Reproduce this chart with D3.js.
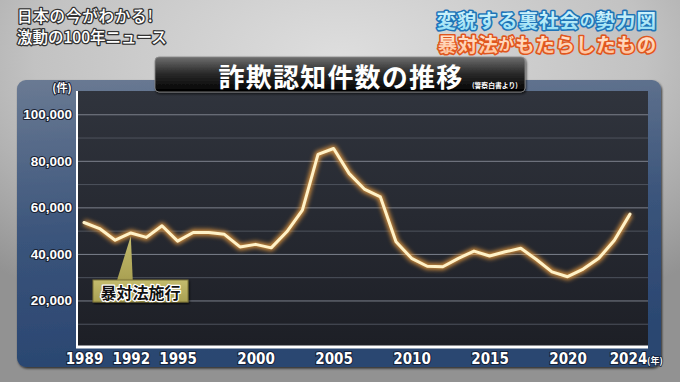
<!DOCTYPE html>
<html>
<head>
<meta charset="utf-8">
<script src="https://cdn.jsdelivr.net/npm/d3@7"></script>
<style>
  html, body { margin: 0; padding: 0; background: #b8b8b8; }
  svg { display: block; }
  .jp { font-family: "Noto Sans CJK JP", "Noto Sans", sans-serif; }
</style>
</head>
<body>
<svg id="chart"></svg>
<script>
// 詐欺認知件数 (警察白書より)
const years = [1989, 1990, 1991, 1992, 1993, 1994, 1995, 1996, 1997, 1998, 1999,
  2000, 2001, 2002, 2003, 2004, 2005, 2006, 2007, 2008, 2009, 2010, 2011, 2012,
  2013, 2014, 2015, 2016, 2017, 2018, 2019, 2020, 2021, 2022, 2023, 2024];
const counts = [53500, 50900, 45900, 49000, 47100, 52100, 45500, 49200, 49200, 48400, 43000,
  44100, 42600, 49500, 58800, 82800, 85300, 74500, 67700, 64500, 45200, 38100, 34700, 34500,
  38100, 41200, 39100, 40900, 42400, 37600, 32300, 30200, 33500, 38100, 45900, 57100];
const yearTicks = [1989, 1992, 1995, 2000, 2005, 2010, 2015, 2020, 2024];
const countTicks = [20000, 40000, 60000, 80000, 100000];
const gridTicks = [10000, 20000, 30000, 40000, 50000, 60000, 70000, 80000, 90000, 100000];

const width = 680, height = 382;
const plot = { left: 77, right: 648, top: 91, bottom: 347 };

const svg = d3.select("#chart").attr("width", width).attr("height", height);
const defs = svg.append("defs");

// backdrop gradient
const bg = defs.append("radialGradient").attr("id", "bg")
  .attr("cx", "50%").attr("cy", "15%").attr("r", "75%");
bg.append("stop").attr("offset", "0%").attr("stop-color", "#dedede");
bg.append("stop").attr("offset", "60%").attr("stop-color", "#c2c2c2");
bg.append("stop").attr("offset", "100%").attr("stop-color", "#929292");

const panelGrad = defs.append("linearGradient").attr("id", "panel")
  .attr("x1", 0).attr("y1", 0).attr("x2", 0.15).attr("y2", 1);
panelGrad.append("stop").attr("offset", "0%").attr("stop-color", "#6a7a93");
panelGrad.append("stop").attr("offset", "55%").attr("stop-color", "#3a547b");
panelGrad.append("stop").attr("offset", "100%").attr("stop-color", "#2a4671");

const plotGrad = defs.append("linearGradient").attr("id", "plotbg")
  .attr("x1", 0).attr("y1", 0).attr("x2", 0).attr("y2", 1);
plotGrad.append("stop").attr("offset", "0%").attr("stop-color", "#30343d");
plotGrad.append("stop").attr("offset", "100%").attr("stop-color", "#1d1f26");

const bannerGrad = defs.append("linearGradient").attr("id", "banner")
  .attr("x1", 0).attr("y1", 0).attr("x2", 0).attr("y2", 1);
bannerGrad.append("stop").attr("offset", "0%").attr("stop-color", "#6e6e6e");
bannerGrad.append("stop").attr("offset", "45%").attr("stop-color", "#2c2c2c");
bannerGrad.append("stop").attr("offset", "100%").attr("stop-color", "#000");

const calloutGrad = defs.append("linearGradient").attr("id", "callout")
  .attr("x1", 0).attr("y1", 0).attr("x2", 0).attr("y2", 1);
calloutGrad.append("stop").attr("offset", "0%").attr("stop-color", "#c4bc6e");
calloutGrad.append("stop").attr("offset", "100%").attr("stop-color", "#a9a052");

const cyanGrad = defs.append("linearGradient").attr("id", "cyan")
  .attr("x1", 0).attr("y1", 0).attr("x2", 0).attr("y2", 1);
cyanGrad.append("stop").attr("offset", "0%").attr("stop-color", "#e6fbff");
cyanGrad.append("stop").attr("offset", "100%").attr("stop-color", "#8fdcf2");

const peachGrad = defs.append("linearGradient").attr("id", "peach")
  .attr("x1", 0).attr("y1", 0).attr("x2", 0).attr("y2", 1);
peachGrad.append("stop").attr("offset", "0%").attr("stop-color", "#fff0e2");
peachGrad.append("stop").attr("offset", "100%").attr("stop-color", "#ffbf96");

defs.append("filter").attr("id", "glow").attr("x", "-10%").attr("y", "-20%")
  .attr("width", "120%").attr("height", "140%")
  .append("feGaussianBlur").attr("stdDeviation", 2);

const shadow = defs.append("filter").attr("id", "shadow");
shadow.append("feDropShadow").attr("dx", 1).attr("dy", 1.5)
  .attr("stdDeviation", 1.2).attr("flood-color", "#000").attr("flood-opacity", 0.7);

svg.append("rect").attr("width", width).attr("height", height).attr("fill", "url(#bg)");

// blue panel and dark plot area
svg.append("rect").attr("x", 17).attr("y", 80).attr("width", 644).attr("height", 287)
  .attr("rx", 9).attr("fill", "url(#panel)").attr("filter", "url(#shadow)");
svg.append("rect").attr("x", plot.left).attr("y", plot.top)
  .attr("width", plot.right - plot.left).attr("height", plot.bottom - plot.top)
  .attr("fill", "url(#plotbg)");

const x = d3.scaleLinear().domain([1989, 2024]).range([84, 630]);
const y = d3.scaleLinear().domain([0, 110000]).range([plot.bottom, plot.top]);

// gridlines
const grid = svg.append("g").attr("transform", `translate(${plot.left},0)`)
  .call(d3.axisLeft(y).tickValues(gridTicks).tickSize(-(plot.right - plot.left)).tickFormat(""));
grid.select(".domain").remove();
grid.selectAll(".tick line")
  .attr("stroke", d => d % 20000 === 0 ? "#7c818c" : "#4e535d")
  .attr("stroke-width", 1);

// y tick labels
const yAxis = svg.append("g").attr("transform", `translate(${plot.left},0)`)
  .call(d3.axisLeft(y).tickValues(countTicks).tickSize(0).tickPadding(5)
    .tickFormat(d3.format(",")));
yAxis.select(".domain").remove();
yAxis.selectAll("text")
  .attr("fill", "#fff").attr("font-family", "Liberation Sans, Arial, sans-serif")
  .attr("font-weight", "bold").attr("font-size", 13.5)
  .attr("stroke", "#1b2233").attr("stroke-width", 2.2).attr("paint-order", "stroke")
  .attr("stroke-linejoin", "round");

// x tick labels
const xAxis = svg.append("g").attr("transform", `translate(0,${plot.bottom})`)
  .call(d3.axisBottom(x).tickValues(yearTicks).tickSize(0).tickPadding(6)
    .tickFormat(d3.format("d")));
xAxis.select(".domain").remove();
xAxis.selectAll("text")
  .attr("fill", "#fff").attr("font-family", "Liberation Sans Narrow, DejaVu Sans Condensed, sans-serif")
  .attr("font-weight", "bold").attr("font-size", 15)
  .attr("stroke", "#14213a").attr("stroke-width", 2).attr("paint-order", "stroke");
// the last year label sits a little left so (年) fits beside it
xAxis.selectAll(".tick").filter(d => d === 2024).select("text").attr("dx", -2);

// axis lines
svg.append("line").attr("x1", plot.left).attr("x2", plot.left)
  .attr("y1", plot.top).attr("y2", plot.bottom)
  .attr("stroke", "#fff").attr("stroke-width", 2);
svg.append("line").attr("x1", plot.left - 1).attr("x2", plot.right)
  .attr("y1", plot.bottom).attr("y2", plot.bottom)
  .attr("stroke", "#fff").attr("stroke-width", 3);

svg.append("text").attr("class", "jp")
  .attr("x", 62).attr("y", 87).attr("text-anchor", "middle").attr("dominant-baseline", "central")
  .attr("fill", "#fff").attr("font-size", 11).attr("font-weight", "bold")
  .attr("stroke", "#1b2233").attr("stroke-width", 2).attr("paint-order", "stroke")
  .text("(件)");
svg.append("text").attr("class", "jp")
  .attr("x", 647).attr("y", 360).attr("dominant-baseline", "central")
  .attr("fill", "#fff").attr("font-size", 9).attr("font-weight", "bold")
  .attr("stroke", "#14213a").attr("stroke-width", 1.5).attr("paint-order", "stroke")
  .text("(年)");

// the line
const line = d3.line().x((d, i) => x(years[i])).y(d => y(d)).curve(d3.curveLinear);
svg.append("path").datum(counts).attr("d", line)
  .attr("fill", "none").attr("stroke", "#f0a040").attr("stroke-width", 6.5)
  .attr("stroke-linejoin", "round").attr("opacity", 0.85).attr("filter", "url(#glow)");
svg.append("path").datum(counts).attr("d", line)
  .attr("fill", "none").attr("stroke", "#fff2c8").attr("stroke-width", 3)
  .attr("stroke-linejoin", "round").attr("stroke-linecap", "round");

// 暴対法施行 callout
const tipX = x(1992), tipY = y(counts[years.indexOf(1992)]) + 3;
svg.append("path")
  .attr("d", `M${tipX},${tipY} L${tipX + 2},281 L${tipX - 14},281 Z`)
  .attr("fill", "url(#callout)");
svg.append("rect").attr("x", 93).attr("y", 280).attr("width", 95).attr("height", 22)
  .attr("fill", "url(#callout)").attr("stroke", "#7d7538").attr("stroke-width", 1)
  .attr("filter", "url(#shadow)");
svg.append("text").attr("class", "jp")
  .attr("x", 140.5).attr("y", 291.5).attr("text-anchor", "middle").attr("dominant-baseline", "central")
  .attr("font-size", 16).attr("font-weight", "bold").attr("fill", "#111")
  .attr("stroke", "#fff").attr("stroke-width", 2.4).attr("paint-order", "stroke")
  .attr("stroke-linejoin", "round")
  .text("暴対法施行");

// title banner
svg.append("rect").attr("x", 155).attr("y", 57).attr("width", 370).attr("height", 35)
  .attr("rx", 4).attr("fill", "url(#banner)").attr("stroke", "#8a8a8a").attr("stroke-width", 0.8)
  .attr("filter", "url(#shadow)");
svg.append("text").attr("class", "jp")
  .attr("x", 341).attr("y", 75).attr("text-anchor", "middle").attr("dominant-baseline", "central")
  .attr("fill", "#fff").attr("font-size", 26).attr("font-weight", "bold").attr("letter-spacing", 1.2)
  .text("詐欺認知件数の推移");
svg.append("text").attr("class", "jp")
  .attr("x", 472).attr("y", 85).attr("dominant-baseline", "central")
  .attr("fill", "#fff").attr("font-size", 6.8).attr("font-weight", "bold")
  .text("(警察白書より)");

// program caption, top-left
const caption = svg.append("g").attr("class", "jp")
  .attr("fill", "#fff").attr("stroke", "#333").attr("stroke-width", 2.6)
  .attr("paint-order", "stroke").attr("stroke-linejoin", "round")
  .attr("font-size", 15.5).attr("font-weight", 500);
caption.append("text").attr("x", 17).attr("y", 15).attr("dominant-baseline", "central")
  .attr("letter-spacing", 0.8)
  .text("日本の今がわかる!");
caption.append("text").attr("x", 17).attr("y", 36).attr("dominant-baseline", "central")
  .text("激動の100年ニュース");

// segment headline, top-right
const head1 = svg.append("text").attr("class", "jp")
  .attr("x", 657).attr("y", 19).attr("text-anchor", "end").attr("dominant-baseline", "central")
  .attr("font-size", 19.5).attr("font-weight", "bold").attr("letter-spacing", 1)
  .attr("fill", "url(#cyan)").attr("stroke", "#1f74b8").attr("stroke-width", 3.2)
  .attr("paint-order", "stroke").attr("stroke-linejoin", "round");
head1.append("tspan").text("変貌する裏社会");
head1.append("tspan").attr("font-size", 14.5).text("の");
head1.append("tspan").text("勢力図");

const head2 = svg.append("text").attr("class", "jp")
  .attr("x", 657).attr("y", 42.5).attr("text-anchor", "end").attr("dominant-baseline", "central")
  .attr("font-size", 19.5).attr("font-weight", "bold").attr("letter-spacing", 0.8)
  .attr("fill", "url(#peach)").attr("stroke", "#e0561e").attr("stroke-width", 3.2)
  .attr("paint-order", "stroke").attr("stroke-linejoin", "round");
head2.append("tspan").text("暴対法");
head2.append("tspan").attr("font-size", 15.5).text("が");
head2.append("tspan").text("もたらしたもの");
</script>
</body>
</html>
